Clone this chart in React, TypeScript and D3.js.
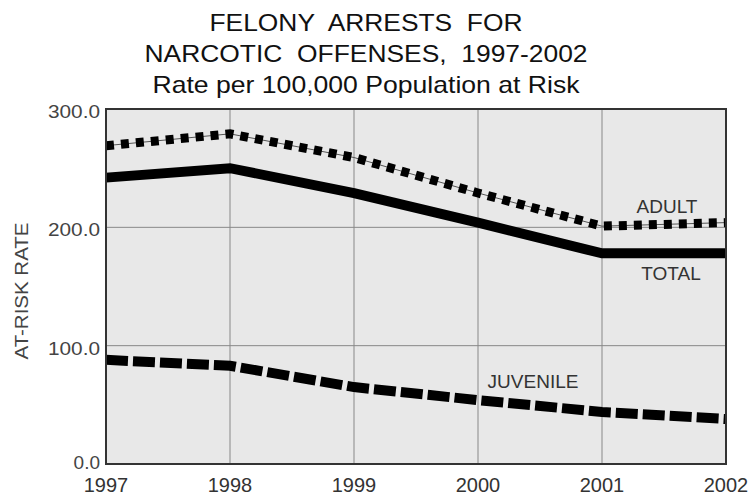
import React from "react";
import * as d3 from "d3";

const years = [1997, 1998, 1999, 2000, 2001, 2002];
const adult = [269, 279, 259, 229, 201, 204];
const total = [242, 250, 229, 204, 178, 178];
const juvenile = [88, 83, 65, 54, 44, 38];
const yTicks = [0, 100, 200, 300];
const titleLines = ["FELONY  ARRESTS  FOR", "NARCOTIC  OFFENSES,  1997-2002", "Rate per 100,000 Population at Risk"];
const titleWidths = [313, 443, 427];

export default function App() {
  const W = 749, H = 495;
  const L = 106, R = 726, T = 109, B = 464;
  const x = d3.scaleLinear().domain([1997, 2002]).range([L, R]);
  const y = d3.scaleLinear().domain([0, 300]).range([B, T]);
  const line = d3.line<number>().x((_, i) => x(years[i])).y((d) => y(d));
  const font = "Arial, 'Liberation Sans', Helvetica, sans-serif";
  return (
    <svg width={W} height={H} style={{ position: "absolute", left: 0, top: 0 }} fontFamily={font}>
      <rect x={0} y={0} width={W} height={H} fill="#fff" />
      {titleLines.map((t, i) => (
        <text key={i} x={366} y={31 + i * 31} textAnchor="middle" fontSize={24} fill="#111"
          style={{ whiteSpace: "pre" }} textLength={titleWidths[i]} lengthAdjust="spacingAndGlyphs">{t}</text>
      ))}
      <rect x={L} y={T} width={R - L} height={B - T} fill="#e8e8e8" />
      {years.slice(1, -1).map((yr) => (
        <line key={yr} x1={x(yr)} x2={x(yr)} y1={T} y2={B} stroke="#888" strokeWidth={1} />
      ))}
      {yTicks.slice(1, -1).map((v) => (
        <line key={v} x1={L} x2={R} y1={y(v)} y2={y(v)} stroke="#888" strokeWidth={1} />
      ))}
      <path d={line(adult) || ""} fill="none" stroke="#555" strokeWidth={1} />
      <path d={line(adult) || ""} fill="none" stroke="#000" strokeWidth={9} strokeDasharray="8,7" />
      <path d={line(total) || ""} fill="none" stroke="#000" strokeWidth={10} />
      <path d={line(juvenile) || ""} fill="none" stroke="#000" strokeWidth={10} strokeDasharray="22,5" />
      <rect x={L} y={T} width={R - L} height={B - T} fill="none" stroke="#333" strokeWidth={2} />
      {yTicks.map((v) => {
        const label = v.toFixed(1);
        return v === 0 ? (
          <text key={v} x={L - 6} y={y(v) + 5} textAnchor="end" fontSize={19} fill="#444">{label}</text>
        ) : (
          <text key={v} x={L - 6} y={y(v) + 9} textAnchor="end" fontSize={19} fill="#444"
            textLength={52} lengthAdjust="spacingAndGlyphs">{label}</text>
        );
      })}
      {years.map((yr) => (
        <text key={yr} x={x(yr)} y={492} textAnchor="middle" fontSize={20} fill="#333">{yr}</text>
      ))}
      <text transform={`translate(28,${291}) rotate(-90)`} textAnchor="middle" fontSize={18} fill="#444"
        textLength={137} lengthAdjust="spacingAndGlyphs">AT-RISK RATE</text>
      <text x={667} y={213} textAnchor="middle" fontSize={19} fill="#333">ADULT</text>
      <text x={671} y={280} textAnchor="middle" fontSize={19} fill="#333">TOTAL</text>
      <text x={533} y={388} textAnchor="middle" fontSize={19} fill="#333">JUVENILE</text>
    </svg>
  );
}
